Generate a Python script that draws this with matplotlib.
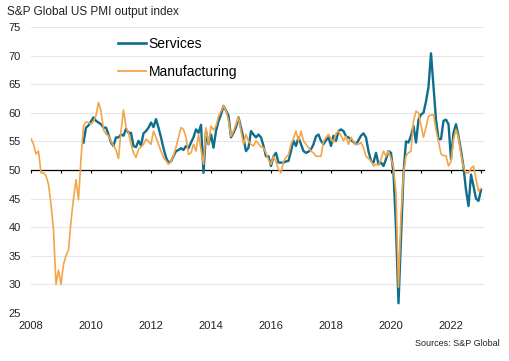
import numpy as np
import matplotlib
matplotlib.use("Agg")
import matplotlib.pyplot as plt
from matplotlib.lines import Line2D

plt.rcParams['font.family'] = ['Liberation Sans', 'DejaVu Sans']

title = "S&P Global US PMI output index"
source = "Sources: S&P Global"
series_names = ["Services", "Manufacturing"]

# Manufacturing output index, monthly from Jan 2008 to Jan 2023
mfg_start = (2008, 1)
mfg_values = [
    55.5, 54.5, 52.8, 53.3, 49.5, 49.5, 49.0, 47.5, 44.0, 39.5, 30.0, 32.5,  # 2008
    30.0, 33.5, 35.0, 36.0, 41.0, 45.0, 48.3, 44.8, 52.0, 57.7, 58.4, 58.3,  # 2009
    58.0, 58.5, 59.5, 61.8, 60.3, 57.0, 56.3, 56.0, 55.0, 54.3, 53.5, 52.0,  # 2010
    56.8, 60.5, 57.5, 56.5, 54.5, 53.0, 52.2, 53.6, 54.0, 54.5, 55.4, 55.0,  # 2011
    54.5, 56.8, 55.7, 54.5, 53.3, 52.2, 51.6, 51.0, 51.5, 52.5, 54.0, 55.7,  # 2012
    57.4, 57.1, 55.7, 52.7, 53.0, 54.5, 53.3, 56.2, 53.6, 51.0, 57.4, 54.5,  # 2013
    57.7, 57.0, 57.7, 59.4, 60.3, 61.2, 60.4, 58.6, 55.9, 56.8, 58.0, 59.2,  # 2014
    56.8, 54.5, 56.2, 55.0, 54.5, 54.2, 55.1, 54.6, 54.0, 53.9, 53.0, 51.8,  # 2015
    51.0, 52.4, 51.5, 50.1, 49.5, 51.5, 52.2, 52.7, 54.5, 55.5, 56.8, 55.1,  # 2016
    56.8, 55.1, 54.5, 53.9, 53.3, 53.0, 52.4, 52.4, 52.4, 55.0, 55.7, 56.2,  # 2017
    55.5, 54.8, 56.4, 56.8, 56.0, 55.1, 55.9, 54.5, 55.7, 55.0, 54.5, 54.5,  # 2018
    54.8, 53.9, 52.4, 52.0, 51.6, 50.7, 51.0, 50.8, 51.9, 53.3, 52.4, 53.3,  # 2019
    52.0, 50.5, 46.0, 29.5, 42.0, 49.5, 52.5, 53.0, 53.3, 58.6, 60.3, 60.0,  # 2020
    57.7, 55.7, 57.5, 59.4, 59.6, 59.7, 57.0, 55.0, 52.8, 52.5, 52.5, 50.7,  # 2021
    51.5, 55.3, 57.1, 55.7, 52.8, 50.5, 49.5, 49.5, 50.3, 50.7, 48.4, 46.3,  # 2022
    46.8,                                                                    # 2023
]

# Services business activity index, monthly from Oct 2009 to Jan 2023
svc_start = (2009, 10)
svc_values = [
    54.8, 57.4, 57.8,                                                        # 2009
    58.5, 59.2, 58.6, 58.3, 58.0, 57.4, 57.4, 56.2, 54.8, 54.2, 55.7, 55.7,  # 2010
    56.2, 56.0, 57.2, 56.5, 56.5, 54.2, 54.0, 55.1, 54.3, 56.4, 56.8, 57.4,  # 2011
    58.3, 57.5, 58.9, 57.4, 55.7, 53.8, 52.2, 51.3, 51.5, 52.4, 53.3, 53.5,  # 2012
    53.8, 53.5, 54.2, 53.8, 54.8, 55.7, 57.1, 56.5, 57.9, 49.5, 56.8, 54.5,  # 2013
    56.2, 53.9, 56.8, 58.5, 59.7, 61.2, 60.4, 59.5, 55.7, 56.5, 57.5, 59.2,  # 2014
    57.4, 55.5, 53.3, 53.9, 56.8, 56.2, 55.7, 56.2, 55.7, 54.2, 52.4, 52.4,  # 2015
    50.7, 52.4, 53.0, 51.3, 51.3, 51.3, 51.5, 51.6, 53.3, 55.1, 54.2, 55.7,  # 2016
    54.5, 53.3, 53.0, 53.2, 53.6, 54.5, 55.9, 56.2, 55.1, 54.5, 55.2, 55.7,  # 2017
    54.2, 56.0, 55.1, 56.8, 57.1, 56.8, 55.9, 55.7, 55.2, 54.9, 54.5, 55.2,  # 2018
    56.0, 56.4, 55.7, 53.3, 51.6, 51.3, 53.0, 51.0, 51.3, 50.7, 51.9, 53.3,  # 2019
    53.0, 49.5, 39.8, 26.7, 38.0, 49.5, 55.0, 54.8, 56.0, 57.7, 54.8, 58.8,  # 2020
    59.7, 60.0, 62.0, 64.5, 70.4, 64.7, 58.8, 55.4, 55.4, 58.6, 58.8, 58.0,  # 2021
    51.9, 56.5, 58.0, 55.9, 53.4, 50.5, 46.5, 43.7, 49.2, 47.2, 45.0, 44.6,  # 2022
    46.5,                                                                    # 2023
]

y_ticks = [25, 30, 35, 40, 45, 50, 55, 60, 65, 70, 75]
x_label_years = [2008, 2010, 2012, 2014, 2016, 2018, 2020, 2022]
x_tick_years = list(range(2008, 2024))

svc_color = "#0E6E8C"
mfg_color = "#F2A649"


def month_positions(start, n):
    y0, m0 = start
    return y0 + (m0 - 1) / 12 + np.arange(n) / 12


t_mfg = month_positions(mfg_start, len(mfg_values))
t_svc = month_positions(svc_start, len(svc_values))

fig = plt.figure(figsize=(5.10, 3.61), dpi=100)
ax = fig.add_axes([31 / 510, 48 / 361, 453 / 510, 286 / 361])

# gridlines
for v in y_ticks:
    if v in (25, 50):
        continue
    ax.axhline(v, color="#e6e6e6", lw=0.8, zorder=0)

ax.plot(t_svc, svc_values, color=svc_color, lw=1.7, zorder=3, solid_joinstyle="round")
ax.plot(t_mfg, mfg_values, color=mfg_color, lw=1.2, zorder=4, solid_joinstyle="round")

ax.set_xlim(2008, 2023.1)
ax.set_ylim(25, 75)

for s in ["top", "right", "left"]:
    ax.spines[s].set_visible(False)
ax.spines["bottom"].set_position(("data", 50))
ax.spines["bottom"].set_color("black")
ax.spines["bottom"].set_linewidth(0.9)
ax.spines["bottom"].set_zorder(2)

ax.set_xticks(x_tick_years)
ax.tick_params(axis="x", direction="out", length=2.5, width=0.8, color="black",
               labelbottom=False)
ax.set_yticks(y_ticks)
ax.set_yticklabels([str(v) for v in y_ticks])
ax.tick_params(axis="y", length=0, pad=7.5, labelsize=8, labelcolor="#222222")

sec = ax.secondary_xaxis(0)
sec.set_xticks(x_label_years)
sec.set_xticklabels([str(y) for y in x_label_years])
sec.spines["bottom"].set_visible(False)
sec.tick_params(axis="x", length=0, pad=6, labelsize=8, labelcolor="#222222")

handles = [Line2D([], [], color=svc_color, lw=1.9),
           Line2D([], [], color=mfg_color, lw=1.3)]
fig.legend(handles, series_names, loc="upper left",
           bbox_to_anchor=(118 / 510, 1 - 37 / 361), frameon=False,
           fontsize=10, handlelength=2.0, handletextpad=0.2,
           labelspacing=1.0, borderpad=0, borderaxespad=0)

fig.text(7 / 510, 1 - 12 / 361, title, fontsize=8.5, color="#222222",
         ha="left", va="center")
fig.text(500 / 510, 1 - 343 / 361, source, fontsize=6.5, color="#222222",
         ha="right", va="center")

fig.savefig("out.png", dpi=100)
